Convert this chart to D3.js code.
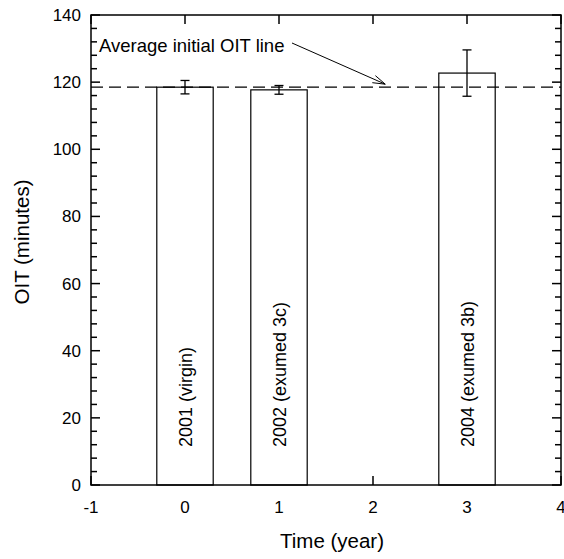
<!DOCTYPE html>
<html>
<head>
<meta charset="utf-8">
<script src="https://cdn.jsdelivr.net/npm/d3@7"></script>
<style>
  body { margin: 0; background: #fff; }
  svg { display: block; font-family: "Liberation Sans", Arial, Helvetica, sans-serif; }
</style>
</head>
<body>
<div id="chart"></div>
<script>
// values
const years = [0, 1, 3];
const oitMeans = [118.5, 117.7, 122.7];
const oitErrors = [2.0, 1.3, 6.9];
const barLabels = ["2001 (virgin)", "2002 (exumed 3c)", "2004 (exumed 3b)"];
const averageOit = 118.5;
const xTickValues = [-1, 0, 1, 2, 3, 4];
const yTickValues = [0, 20, 40, 60, 80, 100, 120, 140];
const yMinorValues = d3.range(0, 141, 4);
const barWidth = 0.6;

const width = 564, height = 559;
const plot = { left: 91, right: 561, top: 15, bottom: 485 };

const svg = d3.select("#chart").append("svg")
    .attr("width", width)
    .attr("height", height);

const x = d3.scaleLinear().domain([-1, 4]).range([plot.left, plot.right]);
const y = d3.scaleLinear().domain([0, 140]).range([plot.bottom, plot.top]);

// ticks (all pointing inside the frame)
const ticks = svg.append("g").attr("stroke", "#000").attr("stroke-width", 1.5);
yMinorValues.forEach(v => {
    const len = v % 20 === 0 ? 9 : 6;
    ticks.append("line").attr("x1", plot.left).attr("x2", plot.left + len)
        .attr("y1", y(v)).attr("y2", y(v));
    ticks.append("line").attr("x1", plot.right).attr("x2", plot.right - len)
        .attr("y1", y(v)).attr("y2", y(v));
});
xTickValues.forEach(v => {
    ticks.append("line").attr("x1", x(v)).attr("x2", x(v))
        .attr("y1", plot.top).attr("y2", plot.top + 9);
    ticks.append("line").attr("x1", x(v)).attr("x2", x(v))
        .attr("y1", plot.bottom).attr("y2", plot.bottom - 9);
});

// tick labels
svg.append("g").selectAll("text")
    .data(yTickValues)
    .enter().append("text")
    .attr("x", plot.left - 10)
    .attr("y", d => y(d) + 6)
    .attr("text-anchor", "end")
    .style("font-size", "17px")
    .text(d => d);

svg.append("g").selectAll("text")
    .data(xTickValues)
    .enter().append("text")
    .attr("x", d => x(d))
    .attr("y", plot.bottom + 28)
    .attr("text-anchor", "middle")
    .style("font-size", "17px")
    .text(d => d);

// bars
svg.append("g").selectAll("rect")
    .data(years)
    .enter().append("rect")
    .attr("x", d => x(d - barWidth / 2))
    .attr("width", d => x(d + barWidth / 2) - x(d - barWidth / 2))
    .attr("y", (d, i) => y(oitMeans[i]))
    .attr("height", (d, i) => y(0) - y(oitMeans[i]))
    .attr("fill", "#fff")
    .attr("stroke", "#000")
    .attr("stroke-width", 1.2);

// bar labels, rotated
svg.append("g").selectAll("text")
    .data(years)
    .enter().append("text")
    .attr("transform", d => `translate(${x(d) + 6.5},447) rotate(-90)`)
    .attr("text-anchor", "start")
    .style("font-size", "18px")
    .text((d, i) => barLabels[i]);

// average OIT line
svg.append("line")
    .attr("x1", plot.left).attr("x2", plot.right)
    .attr("y1", y(averageOit)).attr("y2", y(averageOit))
    .attr("stroke", "#000")
    .attr("stroke-width", 1.3)
    .attr("stroke-dasharray", "12,6");

// error bars
const err = svg.append("g").attr("stroke", "#000").attr("stroke-width", 1.3);
years.forEach((d, i) => {
    const hi = y(oitMeans[i] + oitErrors[i]);
    const lo = y(oitMeans[i] - oitErrors[i]);
    err.append("line").attr("x1", x(d)).attr("x2", x(d)).attr("y1", hi).attr("y2", lo);
    err.append("line").attr("x1", x(d) - 4.5).attr("x2", x(d) + 4.5).attr("y1", hi).attr("y2", hi);
    err.append("line").attr("x1", x(d) - 4.5).attr("x2", x(d) + 4.5).attr("y1", lo).attr("y2", lo);
});

// frame
svg.append("rect")
    .attr("x", plot.left).attr("y", plot.top)
    .attr("width", plot.right - plot.left)
    .attr("height", plot.bottom - plot.top)
    .attr("fill", "none")
    .attr("stroke", "#000")
    .attr("stroke-width", 1.5);

// annotation with arrow
svg.append("text")
    .attr("x", 99).attr("y", 52)
    .style("font-size", "18.5px")
    .text("Average initial OIT line");

const ax1 = 292, ay1 = 43, ax2 = x(2.13), ay2 = y(averageOit) - 3;
const ang = Math.atan2(ay2 - ay1, ax2 - ax1);
const head = 13, spread = 0.3;
svg.append("path")
    .attr("d", `M${ax1},${ay1}L${ax2},${ay2}` +
        `M${ax2 - head * Math.cos(ang - spread)},${ay2 - head * Math.sin(ang - spread)}L${ax2},${ay2}` +
        `L${ax2 - head * Math.cos(ang + spread)},${ay2 - head * Math.sin(ang + spread)}`)
    .attr("fill", "none")
    .attr("stroke", "#000")
    .attr("stroke-width", 1);

// axis titles
svg.append("text")
    .attr("x", 332).attr("y", 548)
    .attr("text-anchor", "middle")
    .style("font-size", "20.5px")
    .text("Time (year)");

svg.append("text")
    .attr("transform", `translate(29,${(plot.top + plot.bottom) / 2 - 8}) rotate(-90)`)
    .attr("text-anchor", "middle")
    .style("font-size", "20.5px")
    .text("OIT (minutes)");
</script>
</body>
</html>
